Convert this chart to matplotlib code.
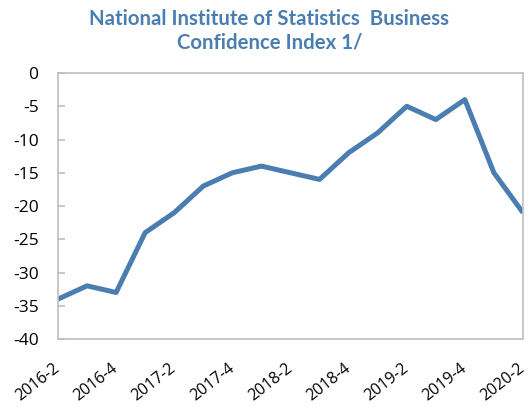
import matplotlib
matplotlib.use("Agg")
import matplotlib.pyplot as plt

quarters = ["2016-2", "2016-3", "2016-4", "2017-1", "2017-2", "2017-3", "2017-4",
            "2018-1", "2018-2", "2018-3", "2018-4", "2019-1", "2019-2", "2019-3",
            "2019-4", "2020-1", "2020-2"]
values = [-34, -32, -33, -24, -21, -17, -15, -14, -15, -16, -12, -9, -5, -7, -4, -15, -21]
yticks = [0, -5, -10, -15, -20, -25, -30, -35, -40]

title = "National Institute of Statistics  Business\nConfidence Index 1/"
color = "#4A7EB0"

fig = plt.figure(figsize=(5.28, 4.07), dpi=100)
ax = fig.add_axes([0.1098, 0.167, 0.8807, 0.6536])
x = list(range(len(quarters)))
ax.plot(x, values, color=color, linewidth=3.6, solid_capstyle="butt")
ax.set_xlim(0, len(quarters) - 1)
ax.set_ylim(-40, 0)
ax.set_yticks(yticks)
ax.set_yticklabels([str(v) for v in yticks], fontsize=12.5, family="Open Sans")
ax.set_xticks(x[::2])
ax.set_xticklabels(quarters[::2], rotation=38, ha="right", va="center",
                   rotation_mode="anchor", fontsize=11.5, family="Open Sans")
for s in ax.spines.values():
    s.set_color("#BFBFBF")
    s.set_linewidth(1.2)
ax.tick_params(axis="y", length=5, color="#BFBFBF", width=1.2, direction="in", pad=14)
ax.tick_params(axis="x", length=0, pad=20)
fig.text(0.51, 0.978, title, ha="center", va="top", fontsize=14.7, fontweight="bold",
         color=color, family="Lato", linespacing=1.2)
fig.savefig("out.png", dpi=100)
